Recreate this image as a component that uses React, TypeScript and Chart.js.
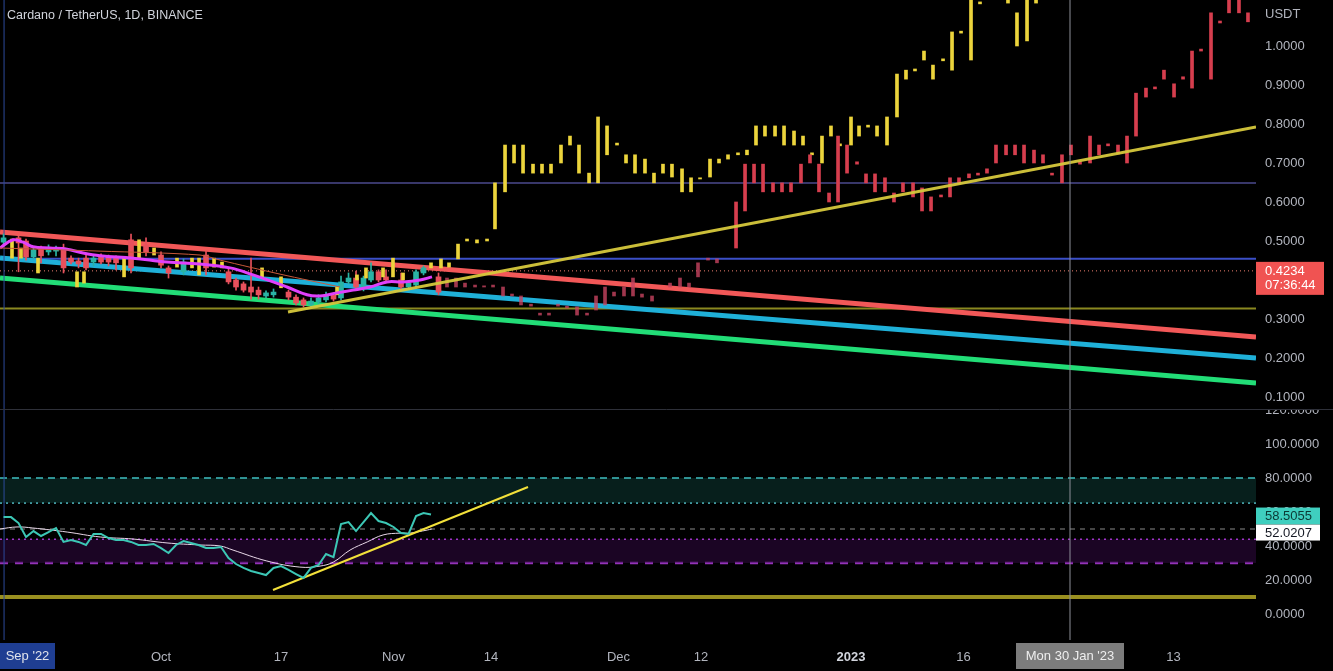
import React, { useEffect, useRef } from 'react';
import { Chart, registerables } from 'chart.js';

Chart.register(...registerables);

const FONT = '"Liberation Sans", Arial, sans-serif';
Chart.defaults.font.family = FONT;

// x axis unit: days since 1 Oct 2022
const X_MIN = -21.47;
const X_MAX = 146;
const PRICE_MIN = 0.0692;
const PRICE_MAX = 1.1179;
const RSI_MIN = -15.29;
const RSI_MAX = 120.59;

const xTickDays = [0, 16, 31, 44, 61, 72, 92, 107, 135];
const xTickLabels = ['Oct', '17', 'Nov', '14', 'Dec', '12', '2023', '16', '13'];
const priceTicks = [0.1, 0.2, 0.3, 0.4, 0.5, 0.6, 0.7, 0.8, 0.9, 1.0];
const rsiTicks = [0, 20, 40, 60, 80, 100, 120];

const titleText = 'Cardano / TetherUS, 1D, BINANCE';
const currentPrice = 0.4234;
const countdown = '07:36:44';
const rsiLast = 58.5055;
const rsiMaLast = 52.0207;
const crosshairDay = 121.2;
const crosshairLabel = "Mon 30 Jan '23";
const startLabel = "Sep '22";
const startDay = -20.93;

// daily candles
const candleDay = [-21, -19, -18, -17, -16, -15, -14, -13, -12, -11, -10, -9, -8, -7, -6, -4, -2, 0, 1, 3, 6, 9, 10, 11, 12, 13, 14, 15, 17, 18, 19, 20, 21, 22, 23, 24, 25, 26, 27, 28, 29, 30, 32, 33, 34, 35, 37];
const candleOpen = [0.497, 0.508, 0.500, 0.459, 0.479, 0.472, 0.474, 0.482, 0.456, 0.449,
  0.456, 0.446, 0.459, 0.459, 0.456, 0.503, 0.490, 0.464, 0.431, 0.421,
  0.464, 0.421, 0.400, 0.390, 0.382, 0.374, 0.359, 0.362, 0.369, 0.356,
  0.349, 0.336, 0.344, 0.349, 0.362, 0.354, 0.395, 0.405, 0.380, 0.400,
  0.421, 0.408, 0.400, 0.382, 0.387, 0.418, 0.408];
const candleHigh = [0.518, 0.512, 0.505, 0.485, 0.487, 0.490, 0.487, 0.492, 0.462, 0.456,
  0.467, 0.462, 0.467, 0.464, 0.462, 0.518, 0.508, 0.472, 0.436, 0.454,
  0.474, 0.431, 0.405, 0.395, 0.456, 0.382, 0.372, 0.377, 0.374, 0.362,
  0.354, 0.354, 0.362, 0.369, 0.367, 0.410, 0.418, 0.423, 0.410, 0.444,
  0.426, 0.426, 0.418, 0.397, 0.426, 0.436, 0.418];
const candleLow = [0.487, 0.421, 0.451, 0.454, 0.444, 0.464, 0.462, 0.418, 0.441, 0.431,
  0.426, 0.436, 0.441, 0.436, 0.426, 0.418, 0.462, 0.431, 0.405, 0.413,
  0.413, 0.390, 0.374, 0.369, 0.351, 0.351, 0.354, 0.356, 0.349, 0.336,
  0.331, 0.331, 0.338, 0.344, 0.346, 0.349, 0.390, 0.377, 0.372, 0.395,
  0.395, 0.395, 0.377, 0.377, 0.382, 0.413, 0.362];
const candleClose = [0.508, 0.495, 0.459, 0.477, 0.462, 0.482, 0.482, 0.431, 0.446, 0.441,
  0.431, 0.456, 0.446, 0.446, 0.444, 0.431, 0.472, 0.438, 0.418, 0.446,
  0.431, 0.395, 0.382, 0.374, 0.369, 0.362, 0.367, 0.369, 0.356, 0.341,
  0.336, 0.346, 0.354, 0.362, 0.351, 0.395, 0.405, 0.382, 0.405, 0.421,
  0.400, 0.400, 0.382, 0.392, 0.421, 0.431, 0.369];

// yellow projected bars
const yellowDay = [-19.87, -18.67, -16.4, -11.2, -10.27, -4.93, -2.93, -0.93, 2.13, 4.13,
  5.07, 7.07, 8.13, 13.47, 16.0, 23.47, 26.13, 27.33, 29.6, 30.93,
  32.27, 36.0, 37.33, 38.4, 39.6, 40.8, 42.13, 43.47, 44.53, 45.87,
  47.07, 48.27, 49.6, 50.8, 52.0, 53.33, 54.53, 55.73, 57.07, 58.27,
  59.47, 60.8, 62.0, 63.2, 64.53, 65.73, 66.93, 68.13, 69.47, 70.67,
  71.87, 73.2, 74.4, 75.6, 76.93, 78.13, 79.33, 80.53, 81.87, 83.07,
  84.4, 85.6, 86.8, 88.13, 89.33, 90.53, 92.0, 93.07, 94.27, 95.47,
  96.8, 98.13, 99.33, 100.53, 101.73, 102.93, 104.27, 105.47, 106.67, 108.0,
  109.2, 112.93, 114.13, 115.47, 116.67];
const yellowHigh = [0.505, 0.482, 0.456, 0.421, 0.421, 0.456, 0.503, 0.482, 0.456, 0.456,
  0.456, 0.456, 0.446, 0.431, 0.408, 0.382, 0.413, 0.431, 0.431, 0.456,
  0.418, 0.444, 0.454, 0.444, 0.492, 0.505, 0.503, 0.505, 0.649, 0.746,
  0.746, 0.746, 0.697, 0.697, 0.697, 0.746, 0.769, 0.746, 0.674, 0.818,
  0.795, 0.751, 0.721, 0.721, 0.710, 0.674, 0.697, 0.697, 0.685, 0.662,
  0.662, 0.710, 0.710, 0.721, 0.726, 0.733, 0.795, 0.795, 0.795, 0.795,
  0.782, 0.769, 0.726, 0.769, 0.795, 0.749, 0.818, 0.795, 0.797, 0.795,
  0.818, 0.928, 0.938, 0.941, 0.987, 0.951, 0.967, 1.036, 1.038, 1.14,
  1.113, 1.125, 1.085, 1.13, 1.125];
const yellowLow = [0.456, 0.456, 0.418, 0.382, 0.392, 0.408, 0.456, 0.464, 0.433, 0.431,
  0.413, 0.433, 0.431, 0.408, 0.380, 0.362, 0.400, 0.405, 0.408, 0.408,
  0.400, 0.431, 0.431, 0.433, 0.454, 0.500, 0.495, 0.500, 0.531, 0.626,
  0.700, 0.674, 0.674, 0.674, 0.674, 0.700, 0.746, 0.674, 0.649, 0.649,
  0.721, 0.746, 0.700, 0.674, 0.674, 0.649, 0.674, 0.664, 0.626, 0.626,
  0.659, 0.664, 0.700, 0.710, 0.721, 0.721, 0.746, 0.769, 0.769, 0.746,
  0.746, 0.746, 0.721, 0.700, 0.769, 0.744, 0.746, 0.769, 0.792, 0.769,
  0.746, 0.818, 0.915, 0.936, 0.964, 0.915, 0.962, 0.938, 1.033, 0.964,
  1.108, 1.110, 1.0, 1.013, 1.110];

// red projected bars
const redDay = [38.13, 39.33, 40.53, 41.87, 43.07, 44.27, 45.6, 46.8, 48.0, 49.33,
  50.53, 51.73, 52.93, 54.13, 55.47, 56.8, 58.0, 59.2, 60.4, 61.73,
  62.93, 64.13, 65.47, 67.87, 69.2, 70.4, 71.6, 72.93, 74.13, 76.67,
  77.87, 79.07, 80.27, 81.6, 82.8, 84.0, 85.33, 86.53, 87.73, 89.07,
  90.27, 91.47, 92.8, 94.0, 95.2, 96.53, 97.73, 98.93, 100.27, 101.47,
  102.67, 104.0, 105.2, 106.4, 107.73, 108.93, 110.13, 111.33, 112.67, 113.87,
  115.07, 116.4, 117.6, 118.8, 120.13, 121.33, 122.53, 123.87, 125.07, 126.27,
  127.6, 128.8, 130.0, 131.33, 132.53, 133.73, 135.07, 136.27, 137.47, 138.67,
  140.0, 141.2, 142.4, 143.73, 144.93];
const redHigh = [0.405, 0.405, 0.392, 0.387, 0.385, 0.387, 0.382, 0.364, 0.359, 0.338,
  0.315, 0.315, 0.338, 0.333, 0.331, 0.315, 0.359, 0.382, 0.369, 0.382,
  0.405, 0.364, 0.359, 0.392, 0.405, 0.392, 0.444, 0.456, 0.454, 0.600,
  0.697, 0.697, 0.697, 0.649, 0.649, 0.649, 0.697, 0.721, 0.697, 0.623,
  0.769, 0.746, 0.703, 0.672, 0.672, 0.662, 0.623, 0.649, 0.649, 0.636,
  0.613, 0.618, 0.662, 0.662, 0.672, 0.674, 0.685, 0.746, 0.746, 0.746,
  0.746, 0.733, 0.721, 0.674, 0.721, 0.746, 0.703, 0.769, 0.746, 0.749,
  0.746, 0.769, 0.879, 0.892, 0.895, 0.938, 0.903, 0.921, 0.987, 0.992,
  1.085, 1.064, 1.13, 1.13, 1.085];
const redLow = [0.382, 0.382, 0.382, 0.382, 0.382, 0.382, 0.359, 0.359, 0.336, 0.333,
  0.310, 0.310, 0.333, 0.328, 0.310, 0.310, 0.323, 0.336, 0.359, 0.359,
  0.359, 0.356, 0.346, 0.382, 0.382, 0.382, 0.408, 0.451, 0.444, 0.482,
  0.577, 0.649, 0.626, 0.626, 0.626, 0.626, 0.649, 0.700, 0.626, 0.600,
  0.600, 0.674, 0.697, 0.649, 0.626, 0.626, 0.600, 0.626, 0.613, 0.577,
  0.577, 0.613, 0.613, 0.649, 0.662, 0.669, 0.674, 0.700, 0.721, 0.721,
  0.700, 0.700, 0.700, 0.669, 0.649, 0.721, 0.697, 0.700, 0.721, 0.744,
  0.723, 0.700, 0.769, 0.869, 0.890, 0.915, 0.869, 0.915, 0.892, 0.987,
  0.915, 1.059, 1.085, 1.085, 1.062];

// moving averages on price
const maDay = [-21.47, -19.73, -18.4, -17.07, -14.8, -12.53, -10.4, -8.13, -3.73, 0.8, 5.2, 9.2, 12.27, 16.8, 19.47, 21.2, 23.47, 25.6, 27.87, 30.13, 32.27, 34.53, 36.13];
const maValue = [0.482, 0.503, 0.497, 0.485, 0.482, 0.479, 0.469, 0.462, 0.456, 0.446, 0.441, 0.431, 0.413, 0.382, 0.362, 0.359, 0.367, 0.374, 0.382, 0.395, 0.395, 0.400, 0.408];
const emaDay = [-21.47, -8.13, 5.2, 7.87, 15.87, 23.87];
const emaValue = [0.482, 0.474, 0.464, 0.451, 0.415, 0.382];

// RSI
const rsiDay = [-21, -20, -19, -18, -17, -16, -15, -14, -13, -12, -11, -10, -9, -8, -7, -6, -5, -4, -3, -2, -1, 0, 1, 2, 3, 4, 5, 6, 7, 8, 9, 10, 11, 12, 13, 14, 15, 16, 17, 18, 19, 20, 21, 22, 23, 24, 25, 26, 27, 28, 29, 30, 31, 32, 33, 34, 35, 36];
const rsiValue = [57.1, 57.0, 53.5, 45.3, 48.8, 45.9, 48.2, 50.6, 42.4, 43.5,
  42.4, 40.6, 47.1, 47.1, 44.7, 43.5, 43.5, 42.4, 40.6, 40.6,
  41.2, 38.8, 35.9, 40.6, 42.9, 41.8, 40.6, 38.8, 38.8, 39.4,
  32.9, 29.4, 27.1, 25.3, 24.1, 22.9, 27.1, 28.2, 25.9, 23.5,
  21.2, 27.1, 28.8, 35.3, 33.5, 52.9, 54.1, 48.8, 54.1, 59.4,
  54.7, 53.5, 51.2, 47.6, 47.1, 57.6, 59.4, 58.5];
const rsiMaDay = [-21.5, -19.2, -17.1, -12.5, -8.1, -3.7, 0.8, 5.2, 7.9, 9.6, 14.1, 18.5, 21.2, 23, 25.2, 27.5, 29.6, 31.9, 33.2, 35.5, 36.1];
const rsiMaValue = [50, 51.2, 50.6, 48.2, 45.3, 44.1, 41.8, 40.6, 40, 37.6, 31.2, 27.6, 28.2, 30.6, 37.6, 42.4, 46.5, 47.6, 47.6, 49.4, 50];

// drawn lines [day, value]
const redChannel = [[-21.47, 0.523], [146, 0.254]];
const blueChannel = [[-21.47, 0.4564], [146, 0.2]];
const greenChannel = [[-21.47, 0.4051], [146, 0.1359]];
const yellowTrend = [[16.93, 0.318], [146, 0.7923]];
const rsiTrend = [[14.93, 14.1], [48.93, 74.7]];
const levelPurple = 0.6487;
const levelBlue = 0.4546;
const levelOlive = 0.327;
const rsiUpper = 80;
const rsiUpperInner = 65.3;
const rsiMid = 50;
const rsiLowerInner = 44;
const rsiLower = 30;
const rsiFloor = 10;

function pts(p: number[][]) {
  return p.map(([x, y]) => ({ x, y }));
}
function lineDs(yAxisID: string, p: number[][], color: string, width: number, order: number, extra: any = {}) {
  return {
    type: 'line', xAxisID: 'x', yAxisID, data: pts(p), borderColor: color, borderWidth: width,
    pointRadius: 0, fill: false, order, tension: 0, ...extra,
  };
}
function hLine(yAxisID: string, v: number, color: string, width: number, order: number, extra: any = {}) {
  return lineDs(yAxisID, [[X_MIN, v], [X_MAX, v]], color, width, order, extra);
}

const overlay = {
  id: 'overlay',
  afterDraw(chart: any) {
    const { ctx, chartArea, scales } = chart;
    const yP = scales.y, yR = scales.yR, x = scales.x;
    const R = chartArea.right;
    ctx.save();
    ctx.fillStyle = '#000';
    ctx.fillRect(R, yP.bottom - 6, chart.width - R, 6);
    ctx.strokeStyle = '#2e3039';
    ctx.lineWidth = 1;
    ctx.beginPath();
    ctx.moveTo(0, Math.round(yP.bottom) + 0.5);
    ctx.lineTo(chart.width, Math.round(yP.bottom) + 0.5);
    ctx.stroke();

    ctx.textBaseline = 'middle';
    ctx.textAlign = 'left';
    ctx.font = '12.5px ' + FONT;
    ctx.fillStyle = '#d1d4dc';
    ctx.fillText(titleText, 7, 16);

    ctx.font = '13px ' + FONT;
    ctx.fillStyle = '#b2b5be';
    ctx.fillText('USDT', R + 9, 14);

    const py = yP.getPixelForValue(currentPrice);
    ctx.fillStyle = '#f05352';
    ctx.fillRect(R, py - 9, 68, 33);
    ctx.fillStyle = '#ffffff';
    ctx.fillText(currentPrice.toFixed(4), R + 9, py + 1);
    ctx.fillText(countdown, R + 9, py + 15);

    const ry = yR.getPixelForValue(rsiLast);
    ctx.fillStyle = '#3fcfbf';
    ctx.fillRect(R, ry - 7, 64, 17);
    ctx.fillStyle = '#0b3a35';
    ctx.fillText(rsiLast.toFixed(4), R + 9, ry + 1.5);
    ctx.fillStyle = '#ffffff';
    ctx.fillRect(R, ry + 10, 64, 16);
    ctx.fillStyle = '#131722';
    ctx.fillText(rsiMaLast.toFixed(4), R + 9, ry + 18.5);

    const by = x.top + 3;
    const bh = 26;
    ctx.fillStyle = '#1f3e92';
    ctx.fillRect(0, by, 55, bh);
    ctx.fillStyle = '#e0e3eb';
    ctx.textAlign = 'center';
    ctx.fillText(startLabel, 27.5, by + bh / 2);

    const cx = x.getPixelForValue(crosshairDay);
    ctx.fillStyle = '#7c7c7c';
    ctx.fillRect(cx - 54, by, 108, bh);
    ctx.fillStyle = '#eeeeee';
    ctx.fillText(crosshairLabel, cx, by + bh / 2);
    ctx.restore();
  },
};

export default function App() {
  const ref = useRef<HTMLCanvasElement>(null);
  useEffect(() => {
    document.body.style.margin = '0';
    document.body.style.background = '#000';
    const canvas = ref.current as HTMLCanvasElement;

    const datasets: any[] = [
      // RSI pane levels
      hLine('yR', rsiUpper, '#3fbfc0', 1.5, 20, { borderDash: [7, 5], fill: '+1', backgroundColor: 'rgba(20,90,80,0.35)' }),
      hLine('yR', rsiUpperInner, '#5ccbd8', 1.5, 20, { borderDash: [2, 4] }),
      hLine('yR', rsiMid, '#8a8a8a', 1, 20, { borderDash: [5, 5] }),
      hLine('yR', rsiLowerInner, '#a035c8', 1.5, 20, { borderDash: [2, 4], fill: '+1', backgroundColor: 'rgba(60,10,80,0.45)' }),
      hLine('yR', rsiLower, '#9333b8', 2.5, 20, { borderDash: [8, 7] }),
      hLine('yR', rsiFloor, '#9a9020', 4, 20),
      // price pane levels
      hLine('y', levelPurple, '#4b4a8e', 1.5, 20),
      hLine('y', levelBlue, '#3b4fc8', 2, 20),
      hLine('y', levelOlive, '#8a8820', 2, 20),
      hLine('y', currentPrice, '#f08070', 1, 19, { borderDash: [1, 3] }),
      // channels
      lineDs('y', greenChannel, '#22dd77', 5, 15),
      lineDs('y', blueChannel, '#1fb0d8', 5, 15),
      lineDs('y', redChannel, '#f25858', 5, 15),
      // vertical markers
      lineDs('y', [[startDay, PRICE_MIN], [startDay, PRICE_MAX]], '#2c4a9c', 1, 14),
      lineDs('yR', [[startDay, RSI_MIN], [startDay, RSI_MAX]], '#2c4a9c', 1, 14),
      lineDs('y', [[crosshairDay, PRICE_MIN], [crosshairDay, PRICE_MAX]], '#8e9099', 1, 1),
      lineDs('yR', [[crosshairDay, RSI_MIN], [crosshairDay, RSI_MAX]], '#8e9099', 1, 1),
      // candles
      {
        type: 'bar', xAxisID: 'x', yAxisID: 'y', grouped: false, order: 8, barThickness: 1,
        data: candleDay.map((d, i) => ({ x: d, y: [candleLow[i], candleHigh[i]] })),
        backgroundColor: candleDay.map((_, i) => (candleClose[i] >= candleOpen[i] ? '#2ab3a4' : '#e8505c')),
      },
      {
        type: 'bar', xAxisID: 'x', yAxisID: 'y', grouped: false, order: 7, barThickness: 5, minBarLength: 2,
        data: candleDay.map((d, i) => ({ x: d, y: [candleOpen[i], candleClose[i]] })),
        backgroundColor: candleDay.map((_, i) => (candleClose[i] >= candleOpen[i] ? '#2ab3a4' : '#e8505c')),
      },
      {
        type: 'bar', xAxisID: 'x', yAxisID: 'y', grouped: false, order: 6, barThickness: 3, minBarLength: 1,
        data: redDay.map((d, i) => ({ x: d, y: [redLow[i], redHigh[i]] })),
        backgroundColor: redDay.map((d) => (d < 75 ? 'rgba(200,68,96,0.8)' : '#d63e4e')),
      },
      {
        type: 'bar', xAxisID: 'x', yAxisID: 'y', grouped: false, order: 6, barThickness: 3, minBarLength: 1,
        data: yellowDay.map((d, i) => ({ x: d, y: [yellowLow[i], yellowHigh[i]] })),
        backgroundColor: '#ecd43c',
      },
      lineDs('y', yellowTrend, 'rgba(214,200,60,0.95)', 3, 4),
      lineDs('y', emaDay.map((d, i) => [d, emaValue[i]]), '#c8583a', 1, 3, { tension: 0.3 }),
      lineDs('y', maDay.map((d, i) => [d, maValue[i]]), '#e040fb', 3, 3, { tension: 0.4 }),
      // RSI
      lineDs('yR', rsiMaDay.map((d, i) => [d, rsiMaValue[i]]), '#e8d8e8', 1, 3, { tension: 0.4 }),
      lineDs('yR', rsiDay.map((d, i) => [d, rsiValue[i]]), '#3cc7b5', 2, 2),
      lineDs('yR', rsiTrend, '#f2e03a', 2, 2),
    ];

    const yCommon = (ticks: number[], fmt: (v: number) => string) => ({
      type: 'linear', position: 'right', stack: 'pane',
      grid: { display: false, drawTicks: false }, border: { display: false },
      afterBuildTicks: (s: any) => { s.ticks = ticks.map((v) => ({ value: v })); },
      afterFit: (s: any) => { s.width = 77; s.paddingTop = 0; s.paddingBottom = 0; },
      ticks: { padding: 9, color: '#b2b5be', font: { size: 13, family: FONT }, callback: (v: any) => fmt(Number(v)) },
    });

    const chart = new Chart(canvas, {
      type: 'bar',
      data: { datasets },
      plugins: [overlay],
      options: {
        animation: false,
        responsive: false,
        events: [],
        layout: { padding: 0 },
        plugins: { legend: { display: false }, tooltip: { enabled: false } },
        scales: {
          x: {
            type: 'linear', min: X_MIN, max: X_MAX, offset: false,
            grid: { display: false, drawTicks: false }, border: { display: false },
            afterBuildTicks: (s: any) => { s.ticks = xTickDays.map((v) => ({ value: v })); },
            afterFit: (s: any) => { s.height = 31; s.paddingLeft = 0; s.paddingRight = 0; },
            ticks: {
              autoSkip: false, maxRotation: 0, padding: 10,
              color: (c: any) => (c.tick && c.tick.value === 92 ? '#d1d4dc' : '#b2b5be'),
              font: (c: any) => ({ size: 13, family: FONT, weight: c.tick && c.tick.value === 92 ? 'bold' : 'normal' }),
              callback: (_v: any, i: number) => xTickLabels[i],
            },
          },
          y: { ...yCommon(priceTicks, (v) => v.toFixed(4)), stackWeight: 409, min: PRICE_MIN, max: PRICE_MAX },
          yR: { ...yCommon(rsiTicks, (v) => v.toFixed(4)), stackWeight: 231, min: RSI_MIN, max: RSI_MAX },
        },
      } as any,
    } as any);
    return () => chart.destroy();
  }, []);

  return (
    <div style={{ position: 'fixed', left: 0, top: 0, width: 1333, height: 671, background: '#000' }}>
      <canvas ref={ref} width={1333} height={671} style={{ display: 'block', width: 1333, height: 671 }} />
    </div>
  );
}
